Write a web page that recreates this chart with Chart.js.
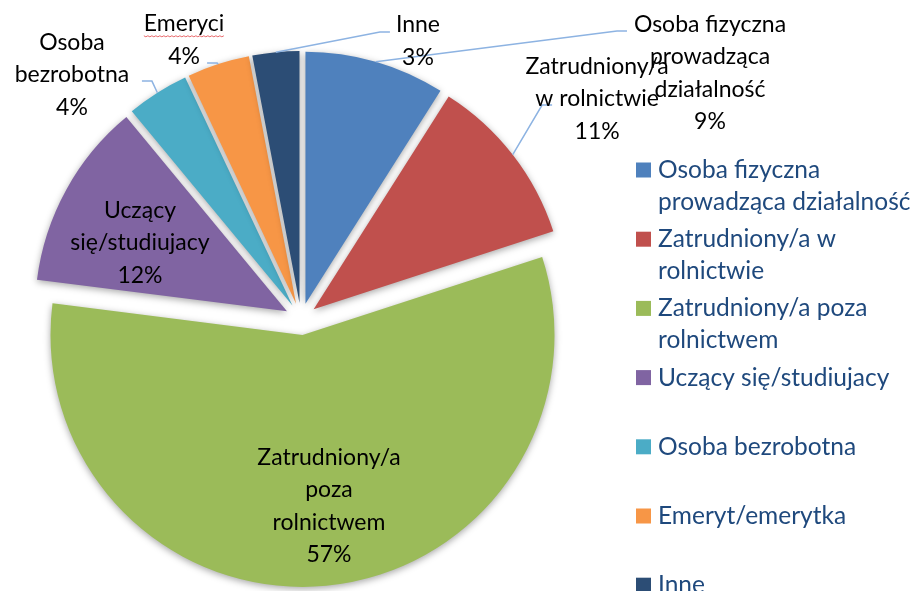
<!DOCTYPE html>
<html>
<head>
<meta charset="utf-8">
<script src="https://cdn.jsdelivr.net/npm/chart.js@4.4.1/dist/chart.umd.min.js"></script>
<style>
  html, body { margin: 0; padding: 0; background: #fff; }
  canvas { display: block; }
</style>
</head>
<body>
<canvas id="pieChart" width="916" height="591"></canvas>
<script>
// dane (udział w %)
const categories = ['Osoba fizyczna prowadząca działalność', 'Zatrudniony/a w rolnictwie',
  'Zatrudniony/a poza rolnictwem', 'Uczący się/studiujacy', 'Osoba bezrobotna',
  'Emeryt/emerytka', 'Inne'];
const shares = [9, 11, 57, 12, 4, 4, 3];
const sliceColors = ['#4F81BD', '#C0504D', '#9BBB59', '#8064A2', '#4BACC6', '#F79646', '#2C4D75'];

// teksty legendy (zawijanie jak w oryginale)
const legendLines = [
  ['Osoba fizyczna', 'prowadząca działalność'],
  ['Zatrudniony/a w', 'rolnictwie'],
  ['Zatrudniony/a poza', 'rolnictwem'],
  ['Uczący się/studiujacy'],
  ['Osoba bezrobotna'],
  ['Emeryt/emerytka'],
  ['Inne']
];

// etykiety przy wycinkach
const sliceLabels = [
  ['Osoba fizyczna', 'prowadząca', 'działalność'],
  ['Zatrudniony/a', 'w rolnictwie'],
  ['Zatrudniony/a', 'poza', 'rolnictwem'],
  ['Uczący', 'się/studiujacy'],
  ['Osoba', 'bezrobotna'],
  ['Emeryci'],
  ['Inne']
];

// położenie etykiet względem środka koła (w promieniach) i koniec linii odniesienia (px od środka etykiety)
const labelPlacement = [
  { at: [1.623, -0.976], leader: [-83, -42] },
  { at: [1.175, -0.873], leader: [-45, 6] },
  { at: [0.111, 0.742], leader: null },
  { at: [-0.639, -0.302], leader: null },
  { at: [-0.909, -0.968], leader: [70, 6] },
  { at: [-0.464, -1.107], leader: [23, 23] },
  { at: [0.464, -1.103], leader: [-28, -9] }
];

const EXPLODE = 16;
const FONT = 'Lato, "Liberation Sans", sans-serif';

const explodePlugin = {
  id: 'explode',
  beforeDatasetDraw(chart, args) {
    const ctx = chart.ctx;
    args.meta.data.forEach(arc => {
      const mid = (arc.startAngle + arc.endAngle) / 2;
      ctx.save();
      ctx.translate(Math.cos(mid) * EXPLODE, Math.sin(mid) * EXPLODE);
      ctx.shadowColor = 'rgba(0,0,0,0.35)';
      ctx.shadowBlur = 7;
      ctx.shadowOffsetY = 2;
      arc.draw(ctx);
      ctx.restore();
    });
    return false;
  }
};

const labelPlugin = {
  id: 'sliceLabels',
  afterDatasetsDraw(chart) {
    const ctx = chart.ctx;
    const arcs = chart.getDatasetMeta(0).data;
    const total = shares.reduce((a, b) => a + b, 0);
    const lh = 32.5;
    ctx.save();
    arcs.forEach((arc, i) => {
      const R = arc.outerRadius;
      const mid = (arc.startAngle + arc.endAngle) / 2;
      const place = labelPlacement[i];
      const cx = arc.x + place.at[0] * R;
      const cy = arc.y + place.at[1] * R;

      if (place.leader) {
        const sx = arc.x + Math.cos(mid) * (R + EXPLODE);
        const sy = arc.y + Math.sin(mid) * (R + EXPLODE);
        const ex = cx + place.leader[0];
        const ey = cy + place.leader[1];
        const bx = ex + (place.leader[0] < 0 ? -10 : 10);
        ctx.strokeStyle = '#8DB3E2';
        ctx.lineWidth = 1.5;
        ctx.beginPath();
        ctx.moveTo(sx, sy);
        ctx.lineTo(bx, ey);
        ctx.lineTo(ex, ey);
        ctx.stroke();
      }

      const lines = sliceLabels[i].concat([Math.round(shares[i] / total * 100) + '%']);
      ctx.font = '23px ' + FONT;
      ctx.fillStyle = '#000';
      ctx.textAlign = 'center';
      ctx.textBaseline = 'middle';
      const top = cy - (lines.length - 1) * lh / 2;
      lines.forEach((t, k) => ctx.fillText(t, cx, top + k * lh));

      // podkreślenie pisowni pod "Emeryci"
      if (sliceLabels[i][0] === 'Emeryci') {
        const w = ctx.measureText('Emeryci').width;
        const uy = top + 12;
        ctx.strokeStyle = '#E8686B';
        ctx.lineWidth = 1;
        ctx.beginPath();
        for (let x = cx - w / 2; x <= cx + w / 2; x += 2) {
          const y = uy + ((Math.round(x) % 4) < 2 ? 0 : 1);
          if (x === cx - w / 2) ctx.moveTo(x, y); else ctx.lineTo(x, y);
        }
        ctx.stroke();
      }
    });
    ctx.restore();
  }
};

const legendPlugin = {
  id: 'sideLegend',
  afterDraw(chart) {
    const ctx = chart.ctx;
    const left = 636, firstY = 170, step = 69.2, lh = 32;
    ctx.save();
    ctx.font = '24.5px ' + FONT;
    ctx.textAlign = 'left';
    ctx.textBaseline = 'middle';
    legendLines.forEach((lines, i) => {
      const y = firstY + i * step;
      ctx.fillStyle = sliceColors[i];
      ctx.fillRect(left, y - 7.5, 15, 15);
      ctx.fillStyle = '#1F497D';
      lines.forEach((t, k) => ctx.fillText(t, left + 22, y + k * lh));
    });
    ctx.restore();
  }
};

const chart = new Chart(document.getElementById('pieChart').getContext('2d'), {
  type: 'pie',
  data: {
    labels: categories,
    datasets: [{
      data: shares,
      backgroundColor: sliceColors,
      borderWidth: 0,
      radius: 252
    }]
  },
  options: {
    responsive: false,
    animation: false,
    layout: { padding: { left: 0, right: 314, top: 47, bottom: 0 } },
    plugins: {
      legend: { display: false },
      tooltip: { enabled: false }
    }
  },
  plugins: [explodePlugin, labelPlugin, legendPlugin]
});
</script>
</body>
</html>
